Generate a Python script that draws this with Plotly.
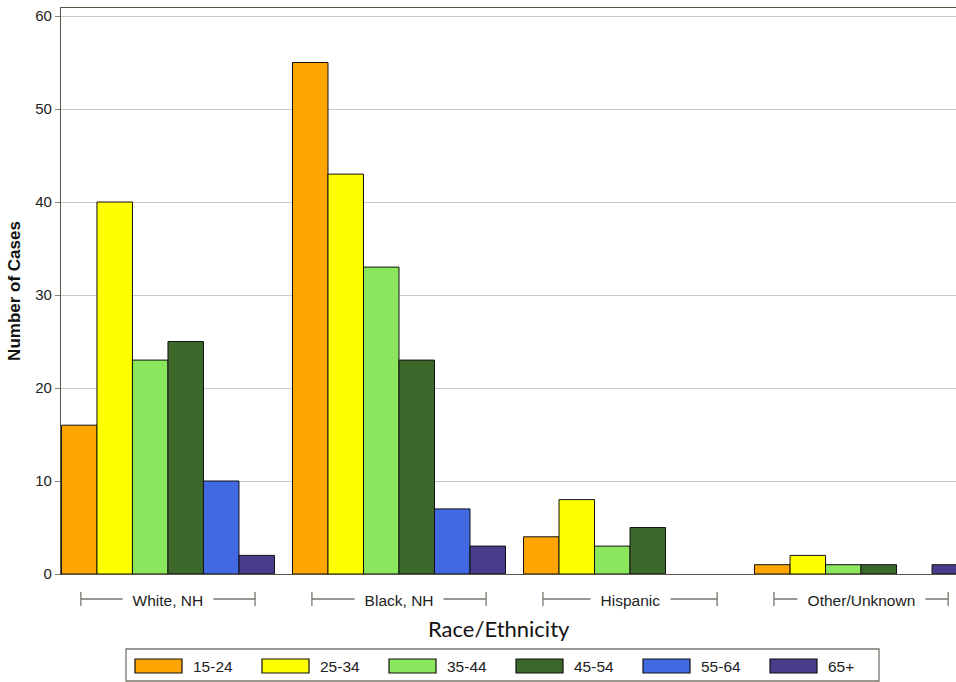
import plotly.graph_objects as go

categories = ["White, NH", "Black, NH", "Hispanic", "Other/Unknown"]
age_groups = ["15-24", "25-34", "35-44", "45-54", "55-64", "65+"]
v_15_24 = [16, 55, 4, 1]
v_25_34 = [40, 43, 8, 2]
v_35_44 = [23, 33, 3, 1]
v_45_54 = [25, 23, 5, 1]
v_55_64 = [10, 7, 0, 0]
v_65p = [2, 3, 0, 1]
series = [v_15_24, v_25_34, v_35_44, v_45_54, v_55_64, v_65p]
colors = ["#FFA500", "#FFFF00", "#8AE65C", "#3C682C", "#4169E1", "#483D8B"]
yticks = [0, 10, 20, 30, 40, 50, 60]

W, H = 956, 682
L, R, T, B = 61, 0, 8, 682 - 574
PW, PH = W - L - R, H - T - B

def px(x):  # page pixel -> paper
    return (x - L) / PW

def py(y):
    return (H - B - y) / PH

fig = go.Figure()
for name, vals, col in zip(age_groups, series, colors):
    fig.add_trace(go.Bar(
        x=list(range(len(categories))), y=vals, name=name,
        marker=dict(color=col, line=dict(color="#111111", width=[0 if v == 0 else 1 for v in vals])),
        showlegend=False,
    ))

font_main = "Liberation Sans, Arial, sans-serif"
line_col = "#5a5446"
br_col = "#7a766c"

shapes = []
annotations = []
half = 0.377
for i, cat in enumerate(categories):
    y0 = py(599)
    shapes.append(dict(type="line", xref="x", yref="paper", x0=i - half, x1=i + half,
                       y0=y0, y1=y0, line=dict(color=br_col, width=1.3)))
    for e in (i - half, i + half):
        shapes.append(dict(type="line", xref="x", yref="paper", x0=e, x1=e,
                           y0=py(592), y1=py(606), line=dict(color=br_col, width=1.3)))
    annotations.append(dict(xref="x", yref="paper", x=i, y=py(600), text="\u00a0\u00a0" + cat + "\u00a0\u00a0",
                            showarrow=False, bgcolor="white", borderpad=1,
                            font=dict(family=font_main, size=15.5, color="#222222"),
                            xanchor="center", yanchor="middle"))

annotations.append(dict(xref="paper", yref="paper", x=px(499), y=py(628), text="Race/Ethnicity",
                        showarrow=False, font=dict(family="Lato, Open Sans, sans-serif", size=22, color="#111111"),
                        xanchor="center", yanchor="middle"))

shapes.append(dict(type="rect", xref="paper", yref="paper", x0=px(126), x1=px(879),
                   y0=py(649), y1=py(681), line=dict(color="#7a766c", width=1.3), fillcolor="white"))
for k, (name, col) in enumerate(zip(age_groups, colors)):
    x0 = 135 + k * 127
    shapes.append(dict(type="rect", xref="paper", yref="paper", x0=px(x0), x1=px(x0 + 47),
                       y0=py(673), y1=py(659), line=dict(color="#111111", width=1.2), fillcolor=col))
    annotations.append(dict(xref="paper", yref="paper", x=px(x0 + 56), y=py(666), text=name,
                            showarrow=False, xanchor="left", yanchor="middle",
                            font=dict(family=font_main, size=15.5, color="#222222")))

fig.update_layout(
    width=W, height=H,
    margin=dict(l=L, r=R, t=T, b=B, pad=0),
    paper_bgcolor="white", plot_bgcolor="white",
    barmode="group", bargap=0.078, bargroupgap=0,
    shapes=shapes, annotations=annotations,
    font=dict(family=font_main, size=15, color="#222222"),
)
fig.update_xaxes(
    range=[-0.463, 3.411], showticklabels=False, ticks="", showgrid=False,
    showline=True, linecolor=line_col, linewidth=1.3, mirror=True, zeroline=False,
)
fig.update_yaxes(
    range=[0, 60.86], tickvals=yticks, ticks="outside", ticklen=5, tickcolor="#8a8478",
    showgrid=True, gridcolor="#c8c8c8", gridwidth=1,
    showline=True, linecolor=line_col, linewidth=1.3, zeroline=False,
    ticklabeloverflow="allow",
    tickfont=dict(family=font_main, size=15, color="#222222"),
    title=dict(text="<b>Number of Cases</b>", font=dict(family=font_main, size=17, color="#111111"), standoff=10),
)

fig.write_html(
    "out.html",
    config={"displayModeBar": False},
    post_script="document.body.style.margin='0';document.body.style.overflow='hidden';",
)
